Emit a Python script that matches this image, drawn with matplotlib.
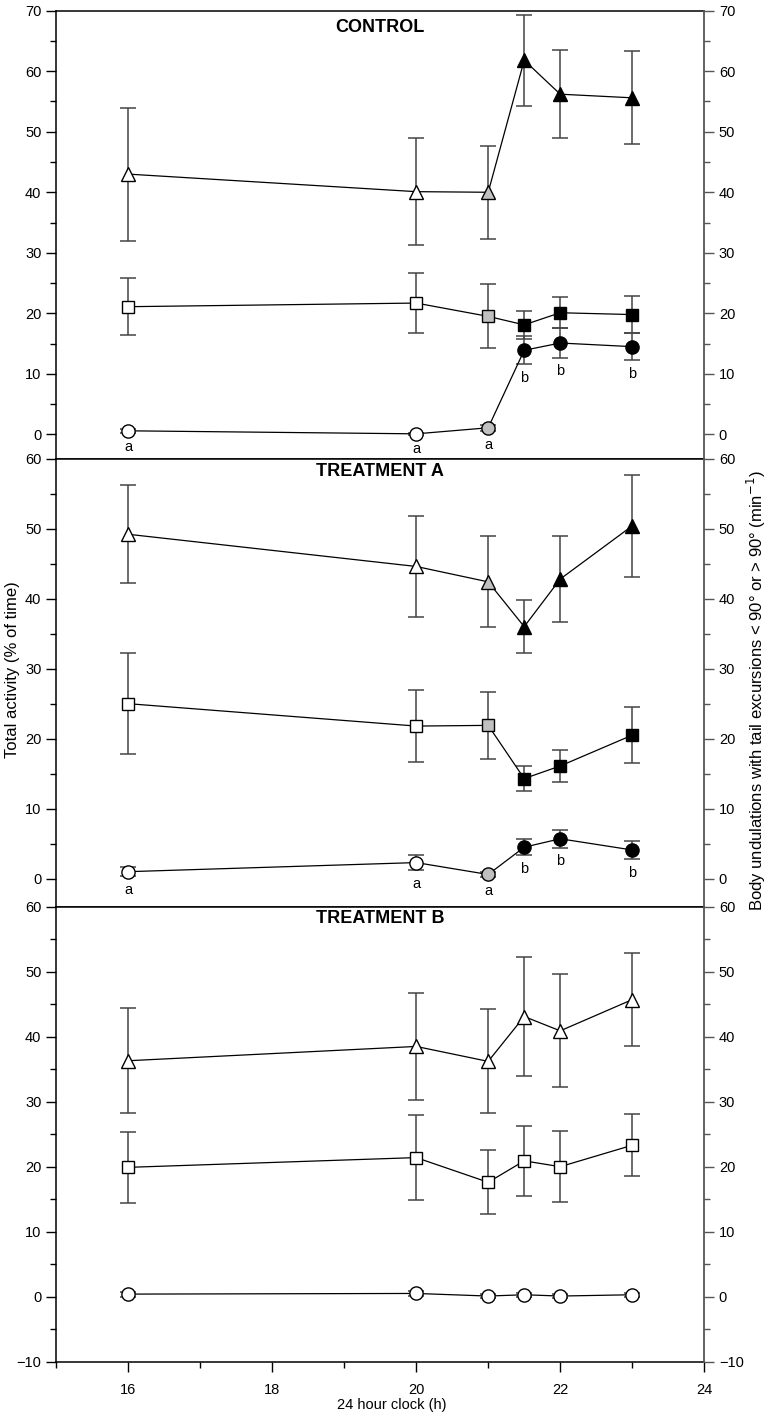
import matplotlib
matplotlib.use('Agg')
import matplotlib.pyplot as plt
from matplotlib.ticker import MultipleLocator

plt.rcParams['font.family'] = ['Liberation Sans', 'DejaVu Sans']

hours = [16, 20, 21, 21.5, 22, 23]
panel_titles = ['CONTROL', 'TREATMENT A', 'TREATMENT B']

# CONTROL
ctrl_tri = [43.0, 40.1, 40.0, 61.8, 56.2, 55.6]
ctrl_tri_err = [11.0, 8.8, 7.7, 7.5, 7.3, 7.7]
ctrl_sq = [21.1, 21.7, 19.5, 18.1, 20.1, 19.8]
ctrl_sq_err = [4.7, 5.0, 5.3, 2.3, 2.6, 3.0]
ctrl_circ = [0.6, 0.1, 1.1, 13.9, 15.1, 14.5]
ctrl_circ_err = [0.3, 0.2, 0.5, 2.3, 2.4, 2.2]
ctrl_letters = ['a', 'a', 'a', 'b', 'b', 'b']

# TREATMENT A
trtA_tri = [49.2, 44.6, 42.4, 36.0, 42.8, 50.4]
trtA_tri_err = [7.0, 7.2, 6.5, 3.8, 6.2, 7.3]
trtA_sq = [25.0, 21.8, 21.9, 14.3, 16.1, 20.5]
trtA_sq_err = [7.2, 5.2, 4.8, 1.8, 2.3, 4.0]
trtA_circ = [1.0, 2.3, 0.6, 4.5, 5.7, 4.1]
trtA_circ_err = [0.6, 1.1, 0.4, 1.1, 1.25, 1.35]
trtA_letters = ['a', 'a', 'a', 'b', 'b', 'b']

# TREATMENT B
trtB_tri = [36.3, 38.5, 36.2, 43.1, 40.9, 45.7]
trtB_tri_err = [8.1, 8.2, 8.0, 9.2, 8.7, 7.2]
trtB_sq = [19.9, 21.4, 17.6, 20.9, 20.0, 23.3]
trtB_sq_err = [5.5, 6.5, 4.9, 5.4, 5.5, 4.8]
trtB_circ = [0.4, 0.5, 0.1, 0.3, 0.1, 0.3]
trtB_circ_err = [0.4, 0.4, 0.3, 0.3, 0.3, 0.3]
trtB_letters = ['', '', '', '', '', '']

ylims = [(-4, 70), (-4, 60), (-10, 60)]
title_y = [0.963, 0.972, 0.975]
fills_ab = ['white', 'white', '#c0c0c0', 'black', 'black', 'black']
fills_b = ['white'] * 6

panels = [
    (ctrl_tri, ctrl_tri_err, ctrl_sq, ctrl_sq_err, ctrl_circ, ctrl_circ_err, ctrl_letters, fills_ab),
    (trtA_tri, trtA_tri_err, trtA_sq, trtA_sq_err, trtA_circ, trtA_circ_err, trtA_letters, fills_ab),
    (trtB_tri, trtB_tri_err, trtB_sq, trtB_sq_err, trtB_circ, trtB_circ_err, trtB_letters, fills_b),
]

fig, axes = plt.subplots(3, 1, figsize=(7.68, 14.18), dpi=100, sharex=True,
                         gridspec_kw=dict(hspace=0, height_ratios=[448, 448, 455]))
fig.subplots_adjust(left=0.073, right=0.917, top=0.9925, bottom=0.0397)

err_col = '#444444'
for i, ax in enumerate(axes):
    tri, tri_e, sq, sq_e, circ, circ_e, letters, fills = panels[i]
    for vals, errs, mk, ms in [(tri, tri_e, '^', 10), (sq, sq_e, 's', 8.5), (circ, circ_e, 'o', 9.5)]:
        ax.errorbar(hours, vals, yerr=errs, fmt='none', ecolor=err_col, elinewidth=1.1,
                    capsize=6, capthick=1.1, zorder=2)
        ax.plot(hours, vals, '-', color='black', lw=0.9, zorder=3)
        for h, v, fc in zip(hours, vals, fills):
            ax.plot(h, v, marker=mk, ms=ms, mfc=fc, mec='black', mew=1.0, zorder=4)
    for h, v, e, lab in zip(hours, circ, circ_e, letters):
        if lab:
            ax.annotate(lab, (h, v - e), xytext=(0, -10), textcoords='offset points',
                        ha='center', va='center', fontsize=10.5)

    ax.text(0.5, title_y[i], panel_titles[i], transform=ax.transAxes, ha='center', va='center',
            fontsize=13, fontweight='bold')

    ax.set_xlim(15, 24)
    ax.set_ylim(*ylims[i])
    lo = 0 if ylims[i][0] > -10 else -10
    ax.set_yticks(range(lo, ylims[i][1] + 1, 10))
    ax.yaxis.set_minor_locator(MultipleLocator(5))
    ax.tick_params(axis='y', which='major', direction='out', length=7, width=1, labelsize=10.5)
    ax.tick_params(axis='y', which='minor', direction='out', length=4, width=1)
    ax.spines['right'].set_visible(False)
    for s in ['top', 'bottom', 'left']:
        ax.spines[s].set_linewidth(1.1)

    ax2 = ax.twinx()
    ax2.set_ylim(*ylims[i])
    ax2.set_yticks(range(lo, ylims[i][1] + 1, 10))
    ax2.yaxis.set_minor_locator(MultipleLocator(5))
    ax2.tick_params(axis='y', which='major', direction='out', length=7, width=1, labelsize=10.5,
                    color='#555555')
    ax2.tick_params(axis='y', which='minor', direction='out', length=4, width=1, color='#555555')
    ax2.spines['right'].set_color('#555555')
    ax2.spines['right'].set_linewidth(1.3)
    for s in ['top', 'bottom', 'left']:
        ax2.spines[s].set_visible(False)

    if i < 2:
        ax.tick_params(axis='x', which='both', bottom=False, labelbottom=False)

axes[2].set_xticks([16, 18, 20, 22, 24])
axes[2].xaxis.set_minor_locator(MultipleLocator(1))
axes[2].tick_params(axis='x', which='major', direction='out', length=7, width=1, labelsize=10.5, pad=8)
axes[2].tick_params(axis='x', which='minor', direction='out', length=4, width=1)

fig.text(0.51, 0.009, '24 hour clock (h)', ha='center', va='center', fontsize=10.5)
fig.text(0.016, 0.528, 'Total activity (% of time)', rotation=90, ha='center', va='center', fontsize=12)
fig.text(0.985, 0.513, 'Body undulations with tail excursions < 90° or > 90° (min$^{-1}$)',
         rotation=90, ha='center', va='center', fontsize=12)

fig.savefig('out.png', dpi=100)
